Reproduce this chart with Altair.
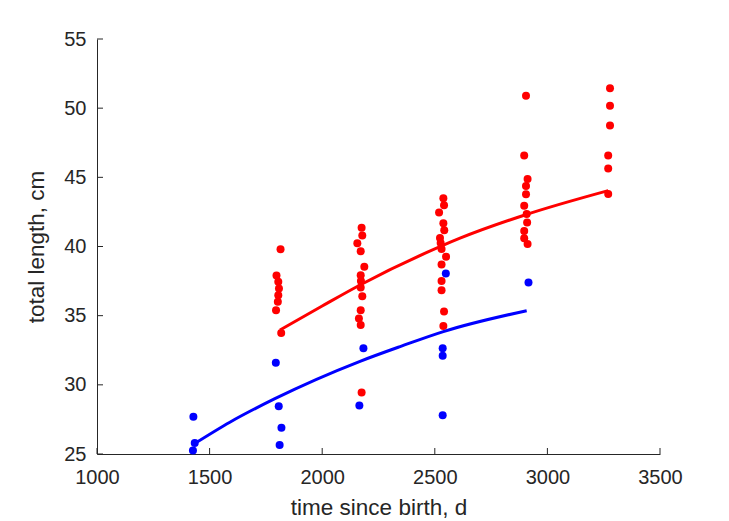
import altair as alt
import pandas as pd

# ---- data ----
blue_t = [1428, 1434, 1426, 1794, 1807, 1819, 1811, 2183, 2165, 2549, 2535, 2535, 2535, 2916]
blue_L = [27.7, 25.8, 25.25, 31.6, 28.45, 26.9, 25.65, 32.65, 28.5, 38.05, 32.65, 32.1, 27.8, 37.4]

red_t = [1815, 1797, 1805, 1808, 1805, 1803, 1795, 1818,
         2175, 2178, 2156, 2171, 2187, 2171, 2172, 2171, 2178, 2171, 2163, 2171, 2175,
         2538, 2541, 2519, 2538, 2542, 2523, 2526, 2530, 2550, 2530, 2530, 2530, 2541, 2538,
         2905, 2897, 2912, 2905, 2905, 2897, 2908, 2910, 2897, 2897, 2912,
         3278, 3278, 3278, 3270, 3270, 3270]
red_L = [39.8, 37.9, 37.45, 36.97, 36.47, 36.0, 35.4, 33.75,
         41.35, 40.8, 40.23, 39.65, 38.53, 37.93, 37.5, 37.04, 36.4, 35.4, 34.8, 34.32, 29.45,
         43.48, 42.98, 42.45, 41.68, 41.18, 40.62, 40.26, 39.82, 39.26, 38.7, 37.5, 36.83, 35.3, 34.25,
         50.9, 46.57, 44.88, 44.38, 43.77, 42.94, 42.35, 41.73, 41.12, 40.6, 40.18,
         51.44, 50.18, 48.74, 46.57, 45.63, 43.8]

blue_fit_t = [1428, 1590, 1790, 2168, 2352, 2538, 2908]
blue_fit_L = [25.7, 27.3, 29.0, 31.7, 32.8, 33.85, 35.36]

red_fit_t = [1813, 2000, 2168, 2523, 2612, 2900, 3270]
red_fit_L = [33.97, 35.7, 37.22, 39.99, 40.6, 42.28, 44.04]

x_ticks = [1000, 1500, 2000, 2500, 3000, 3500]
y_ticks = [25, 30, 35, 40, 45, 50, 55]

W, H = 563, 415
FONT = "Liberation Sans"
DARK = "#262626"

blue_pts = pd.DataFrame({"t": blue_t, "L": blue_L})
red_pts = pd.DataFrame({"t": red_t, "L": red_L})
blue_fit = pd.DataFrame({"t": blue_fit_t, "L": blue_fit_L})
red_fit = pd.DataFrame({"t": red_fit_t, "L": red_fit_L})
xt = pd.DataFrame({"v": x_ticks})
yt = pd.DataFrame({"v": y_ticks})

xscale = alt.Scale(domain=[1000, 3500], nice=False, zero=False)
yscale = alt.Scale(domain=[25, 55], nice=False, zero=False)

xaxis = alt.Axis(values=x_ticks, format="d", title="time since birth, d", grid=False, ticks=False,
                 tickSize=0, domainColor=DARK, domainWidth=1, labelColor=DARK,
                 labelFont=FONT, labelFontSize=20, labelPadding=29, labelFlush=False,
                 labelAlign="center", labelBaseline="alphabetic",
                 titleFont=FONT, titleFontSize=22.5,
                 titleColor=DARK, titleFontWeight="normal", titleBaseline="alphabetic",
                 titleY=60, titleX=W / 2, titleAlign="center")
yaxis = alt.Axis(values=y_ticks, format="d", title="total length, cm", grid=False, ticks=False,
                 tickSize=0, domainColor=DARK, domainWidth=1, labelColor=DARK,
                 labelFont=FONT, labelFontSize=20, labelPadding=11, labelFlush=False,
                 labelAlign="right", labelBaseline="middle",
                 titleFont=FONT, titleFontSize=22.5, titleColor=DARK,
                 titleFontWeight="normal", titleBaseline="alphabetic",
                 titleX=-54, titleY=H / 2, titleAlign="center", titleAngle=270)

x_enc = alt.X("t:Q", scale=xscale, axis=xaxis)
y_enc = alt.Y("L:Q", scale=yscale, axis=yaxis)

red_points = alt.Chart(red_pts).mark_circle(size=64, color="#ff0000", opacity=1).encode(x=x_enc, y=y_enc)
blue_points = alt.Chart(blue_pts).mark_circle(size=64, color="#0000ff", opacity=1).encode(
    x=alt.X("t:Q", scale=xscale), y=alt.Y("L:Q", scale=yscale))
red_line = alt.Chart(red_fit).mark_line(color="#ff0000", strokeWidth=3, interpolate="monotone").encode(
    x=alt.X("t:Q", scale=xscale), y=alt.Y("L:Q", scale=yscale))
blue_line = alt.Chart(blue_fit).mark_line(color="#0000ff", strokeWidth=3, interpolate="monotone").encode(
    x=alt.X("t:Q", scale=xscale), y=alt.Y("L:Q", scale=yscale))

xticks_in = alt.Chart(xt).mark_rule(color=DARK, strokeWidth=1).encode(
    x=alt.X("v:Q", scale=xscale), y=alt.value(H), y2=alt.value(H - 6))
yticks_in = alt.Chart(yt).mark_rule(color=DARK, strokeWidth=1).encode(
    y=alt.Y("v:Q", scale=yscale), x=alt.value(0), x2=alt.value(6))

chart = alt.layer(red_points, blue_points, red_line, blue_line, xticks_in, yticks_in).properties(
    width=W, height=H,
    autosize=alt.AutoSizeParams(type="none"),
    padding={"left": 97, "top": 39, "right": 69, "bottom": 67},
    background="white",
).configure_view(strokeWidth=0, strokeOpacity=0)

chart.save("out.html", embed_options={"renderer": "svg", "actions": False})
